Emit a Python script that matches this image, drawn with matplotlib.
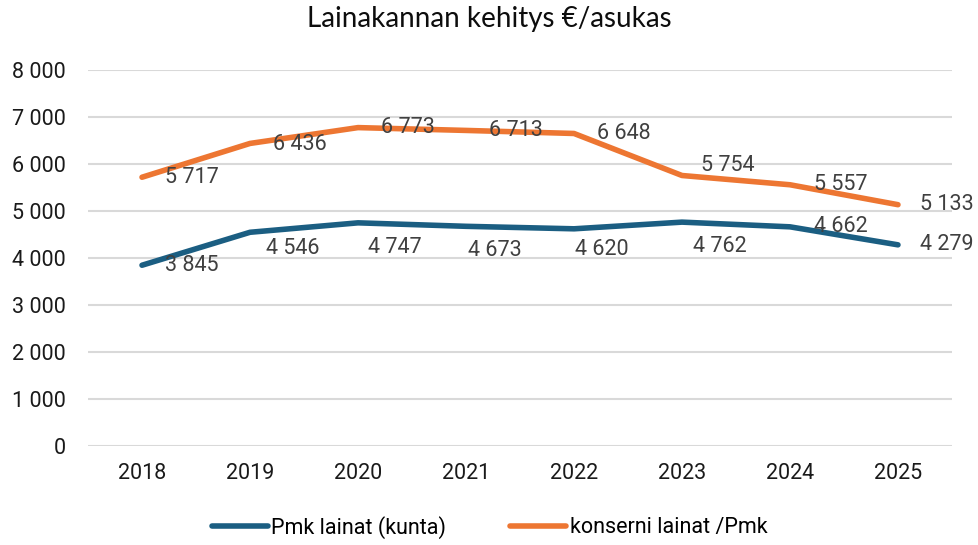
import matplotlib.pyplot as plt
import numpy as np

years = ['2018', '2019', '2020', '2021', '2022', '2023', '2024', '2025']
pmk_lainat = [3845, 4546, 4747, 4673, 4620, 4762, 4662, 4279]
konserni_lainat = [5717, 6436, 6773, 6713, 6648, 5754, 5557, 5133]
yticks = [0, 1000, 2000, 3000, 4000, 5000, 6000, 7000, 8000]

# label offsets in pixels (dx to text left edge, dy downwards), as placed in the original
pmk_offsets = [(23, 0), (16, 16), (10, 25), (2, 24), (1, 21), (11, 24), (24, 0), (22, 0)]
konserni_offsets = [(23, 0), (23, 1), (23, 0), (23, 0), (23, 0), (19, -10), (24, 0), (22, 0)]

blue = '#1b5e82'
orange = '#ed7632'
font = ['Roboto', 'DejaVu Sans']
px = 72 / 100


def fmt(v):
    return f'{v:,}'.replace(',', ' ')


fig = plt.figure(figsize=(9.79, 5.45), dpi=100)
ax = fig.add_axes([0.0899, 0.1817, 0.8825, 0.69])

x = np.arange(len(years))
ax.plot(x, pmk_lainat, color=blue, lw=4, solid_capstyle='round',
        label='Pmk lainat (kunta)', zorder=3)
ax.plot(x, konserni_lainat, color=orange, lw=4, solid_capstyle='round',
        label='konserni lainat /Pmk', zorder=3)

for vals, offs in [(pmk_lainat, pmk_offsets), (konserni_lainat, konserni_offsets)]:
    for xi, v, (dx, dy) in zip(x, vals, offs):
        ax.annotate(fmt(v), (xi, v), xytext=(dx * px, -dy * px),
                    textcoords='offset points', ha='left', va='center',
                    fontsize=15.5, color='#404040', family=font, zorder=4)

ax.set_xlim(-0.5, len(years) - 0.5)
ax.set_ylim(0, 8000)
ax.set_xticks(x)
ax.set_xticklabels(years, family=font, fontsize=15.5, color='#1a1a1a')
ax.set_yticks(yticks)
ax.set_yticklabels([fmt(t) for t in yticks], family=font, fontsize=15.5,
                   color='#1a1a1a')
ax.tick_params(axis='y', length=0, pad=16)
ax.tick_params(axis='x', length=0, pad=12)
ax.grid(axis='y', color='#d9d9d9', lw=1.5)
ax.set_axisbelow(True)
for s in ax.spines.values():
    s.set_visible(False)

fig.text(0.5, 0.965, 'Lainakannan kehitys €/asukas', ha='center', va='center',
         fontsize=20, family=['Lato', 'DejaVu Sans'], color='#0d0d0d')

fig.legend(loc='center', bbox_to_anchor=(0.5, 0.033), ncol=2, frameon=False,
           prop={'family': font, 'size': 15.5}, handlelength=2.6,
           handletextpad=0.15, columnspacing=3.0)

fig.savefig('out.png', dpi=100)
